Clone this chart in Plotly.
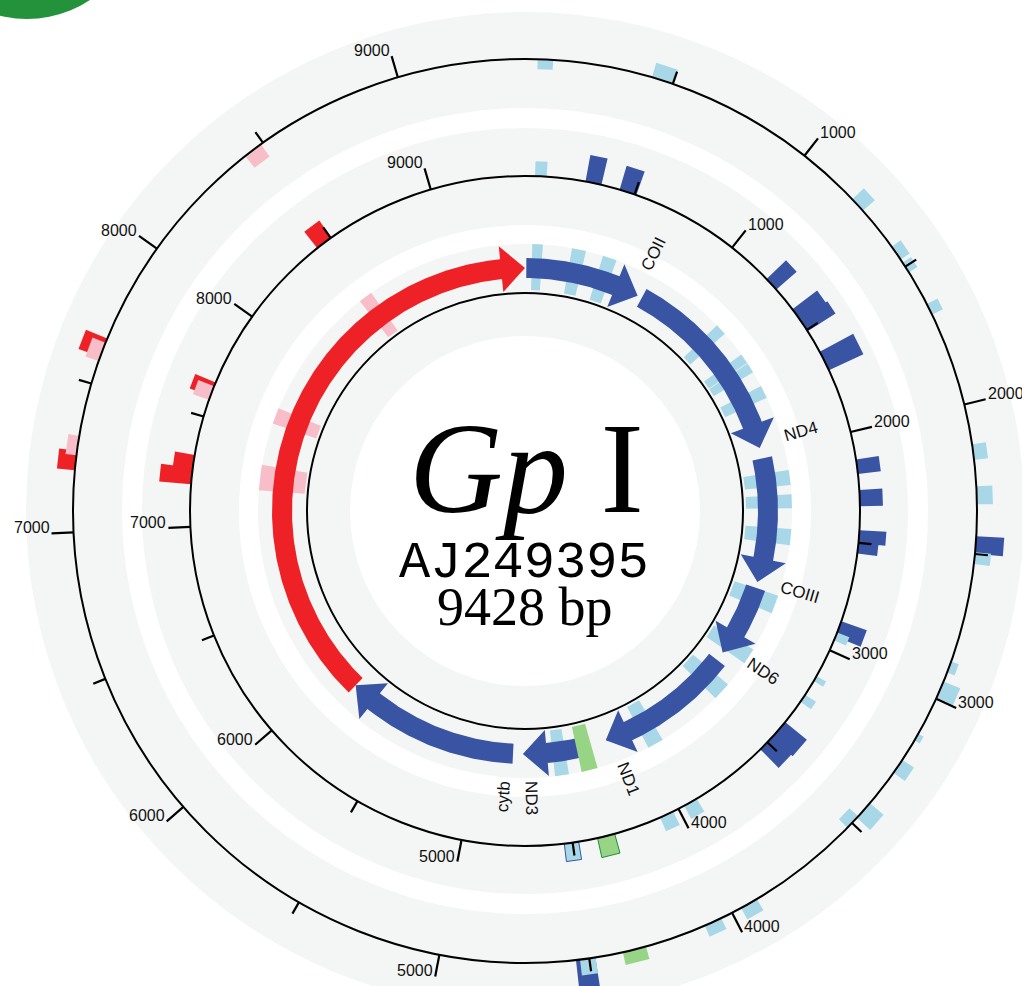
import numpy as np
import plotly.graph_objects as go

# ---------------- data ----------------
GENOME_LENGTH = 9428
genome_name = "AJ249395"
genome_title = "Gp"
genome_subtitle = "I"

gene_names = ["COII", "ND4", "COIII", "ND6", "ND1", "ND3", "cytb", ""]
gene_starts = [8, 752, 2030, 2839, 3347, 4374, 4788, 5871]
gene_ends = [723, 1964, 2802, 3289, 4206, 4727, 5871, 9428]
gene_kind = ["blue", "blue", "blue", "blue", "blue", "blue", "blue", "red"]
gene_label_pos = [694, 1938, 2789, 3247, 4164, 4683, 4829, None]

tick_major = [1000, 2000, 3000, 4000, 5000, 6000, 7000, 8000, 9000]
tick_minor = [500, 1500, 2500, 3500, 4500, 5500, 6500, 7500, 8500]

# track A (gene slot, full-height hits behind the genes)
a_lblue_pos = [71, 306, 485, 1236, 1446, 1508, 1663, 2168, 2302, 2504, 2894, 3221, 3470, 3947, 4505]
a_lblue_len = [60, 80, 80, 65, 58, 58, 73, 86, 79, 92, 105, 92, 105, 92, 79]
a_pink_pos = [8467, 7618, 7260]
a_pink_len = [79, 92, 144]
a_green_pos = [4347]
a_green_len = [92]

# track B (hits outside the inner backbone), score = bar height
b_dblue_pos = [309, 469, 1241, 1417, 1477, 1660, 2158, 2299, 2472, 2522, 2897, 3425, 3500]
b_dblue_len = [73, 79, 65, 60, 60, 92, 65, 73, 58, 52, 73, 90, 90]
b_dblue_score = [27, 25, 27, 31, 33, 38, 23, 23, 27, 20, 27, 28, 26]
b_lblue_pos = [71, 2933, 3143, 3247, 3939, 4059, 4505]
b_lblue_len = [52, 39, 26, 39, 65, 65, 65]
b_lblue_score = [15, 13, 11, 13, 15, 15, 18]
b_green_pos = [4347]
b_green_len = [79]
b_green_score = [20]
b_red_pos = [8464, 7629, 7291, 7228]
b_red_len = [79, 65, 65, 73]
b_red_score = [21, 22, 20, 32]
b_pink_pos = [7611]
b_pink_len = [65]
b_pink_score = [17]

# track C (hits on the outer backbone); positive = outside, negative = inside
c_dblue_pos = [2470, 4512]
c_dblue_len = [58, 65]
c_dblue_score = [28, 40]
c_lblue_pos = [464, 1241, 1446, 1503, 1663, 2161, 2305, 2514, 2886, 2967, 3143, 3258, 3444, 3936, 4070, 4505, 68, 3496]
c_lblue_len = [73, 52, 52, 39, 39, 52, 60, 39, 39, 60, 26, 52, 65, 60, 60, 52, 52, 52]
c_lblue_score = [15, 16, 11, 10, 12, 14, 16, 16, 8, 18, 6, 14, 18, 13, 12, 16, -10, -12]
c_green_pos = [4347]
c_green_len = [79]
c_green_score = [13]
c_red_pos = [7626, 7239]
c_red_len = [65, 65]
c_red_score = [23, 18]
c_pink_pos = [7611, 7289, 8459]
c_pink_len = [65, 65, 65]
c_pink_score = [14, 11, -15]

# ---------------- style ----------------
CX, CY = 525, 511          # centre in pixels
W, H = 1022, 986
R_INNER_BB = 218
R_MID_BB = 335
R_OUTER_BB = 452
GENE_RC, GENE_HW, HEAD_HW, HEAD_PX = 243, 10, 23, 24
SLOT_A = (221, 267)

C_DBLUE = "rgb(58,84,164)"
C_LBLUE = "rgb(168,216,232)"
C_RED = "rgb(238,33,38)"
C_PINK = "rgb(247,190,202)"
C_GREEN = "rgb(152,212,134)"
C_DGREEN = "rgb(30,140,60)"
C_RING = "rgb(244,246,245)"


def ang(bp):
    return np.asarray(bp, dtype=float) / GENOME_LENGTH * 2 * np.pi


def sector(c, w, r0, r1, n=10):
    t = np.linspace(ang(c - w / 2), ang(c + w / 2), n)
    xs = np.concatenate([r1 * np.sin(t), r0 * np.sin(t[::-1]), [r1 * np.sin(t[0])]])
    ys = np.concatenate([r1 * np.cos(t), r0 * np.cos(t[::-1]), [r1 * np.cos(t[0])]])
    return list(xs), list(ys)


def poly_trace(polys, color, line=None):
    X, Y = [], []
    for xs, ys in polys:
        X += xs + [None]
        Y += ys + [None]
    return go.Scatter(x=X, y=Y, mode="lines", fill="toself", fillcolor=color,
                      line=dict(width=line[1], color=line[0]) if line else dict(width=0, color=color),
                      hoverinfo="skip", showlegend=False)


def hits(pos, ln, base, score=None, r_full=None):
    out = []
    for i, (p, l) in enumerate(zip(pos, ln)):
        if r_full is not None:
            r0, r1 = r_full
        else:
            s = score[i]
            r0, r1 = (base, base + s) if s >= 0 else (base + s, base)
        out.append(sector(p, l, r0, r1))
    return out


def arrow(s, e):
    a0, a1 = float(ang(s)), float(ang(e))
    ab = a1 - HEAD_PX / GENE_RC
    n = max(4, int((ab - a0) / 0.008))
    t = np.linspace(a0, ab, n)
    ro, ri = GENE_RC + GENE_HW, GENE_RC - GENE_HW
    xs = list(ro * np.sin(t)) + [(GENE_RC + HEAD_HW) * np.sin(ab), GENE_RC * np.sin(a1),
                                  (GENE_RC - HEAD_HW) * np.sin(ab)] + list(ri * np.sin(t[::-1]))
    ys = list(ro * np.cos(t)) + [(GENE_RC + HEAD_HW) * np.cos(ab), GENE_RC * np.cos(a1),
                                  (GENE_RC - HEAD_HW) * np.cos(ab)] + list(ri * np.cos(t[::-1]))
    xs.append(xs[0]); ys.append(ys[0])
    return xs, ys


fig = go.Figure()

# track A hits (behind genes)
fig.add_trace(poly_trace(hits(a_lblue_pos, a_lblue_len, 0, r_full=SLOT_A), C_LBLUE))
fig.add_trace(poly_trace(hits(a_pink_pos, a_pink_len, 0, r_full=SLOT_A), C_PINK))

# genes
for kind in ["blue", "red"]:
    polys = [arrow(s, e) for s, e, k in zip(gene_starts, gene_ends, gene_kind) if k == kind]
    fig.add_trace(poly_trace(polys, C_DBLUE if kind == "blue" else C_RED))
fig.add_trace(poly_trace(hits(a_green_pos, a_green_len, 0, r_full=SLOT_A), C_GREEN))

# track B
fig.add_trace(poly_trace(hits(b_dblue_pos, b_dblue_len, R_MID_BB, b_dblue_score), C_DBLUE))
fig.add_trace(poly_trace(hits(b_lblue_pos[:-1], b_lblue_len[:-1], R_MID_BB, b_lblue_score[:-1]), C_LBLUE))
fig.add_trace(poly_trace(hits(b_lblue_pos[-1:], b_lblue_len[-1:], R_MID_BB, b_lblue_score[-1:]), C_LBLUE,
                         line=(C_DBLUE, 1)))
fig.add_trace(poly_trace(hits(b_green_pos, b_green_len, R_MID_BB, b_green_score), C_GREEN,
                         line=(C_DGREEN, 1)))
fig.add_trace(poly_trace(hits(b_red_pos, b_red_len, R_MID_BB, b_red_score), C_RED))
fig.add_trace(poly_trace(hits(b_pink_pos, b_pink_len, R_MID_BB, b_pink_score), C_PINK))

# track C
fig.add_trace(poly_trace(hits(c_dblue_pos, c_dblue_len, R_OUTER_BB, c_dblue_score), C_DBLUE))
fig.add_trace(poly_trace(hits(c_lblue_pos, c_lblue_len, R_OUTER_BB, c_lblue_score), C_LBLUE))
fig.add_trace(poly_trace(hits(c_green_pos, c_green_len, R_OUTER_BB, c_green_score), C_GREEN))
fig.add_trace(poly_trace(hits(c_red_pos, c_red_len, R_OUTER_BB, c_red_score), C_RED))
fig.add_trace(poly_trace(hits(c_pink_pos, c_pink_len, R_OUTER_BB, c_pink_score), C_PINK))

# ticks
TX, TY = [], []
annotations = []
for rb in (R_MID_BB, R_OUTER_BB):
    for ticks, ln in ((tick_major, 22), (tick_minor, 13)):
        for p in ticks:
            a = float(ang(p))
            TX += [rb * np.sin(a), (rb + ln) * np.sin(a), None]
            TY += [rb * np.cos(a), (rb + ln) * np.cos(a), None]
    for p in tick_major:
        a = float(ang(p))
        ex, ey = (rb + 22) * np.sin(a), (rb + 22) * np.cos(a)
        annotations.append(dict(x=ex, y=ey, text=str(p), showarrow=False,
                                xanchor="left" if np.degrees(a) < 180 else "right",
                                yanchor="bottom", yshift=-5, xshift=0,
                                font=dict(family="Liberation Sans, Arial", size=16, color="#111")))
fig.add_trace(go.Scatter(x=TX, y=TY, mode="lines", line=dict(color="black", width=2.2),
                         hoverinfo="skip", showlegend=False))

# gene labels
for name, lp in zip(gene_names, gene_label_pos):
    if not name or lp is None:
        continue
    a = float(ang(lp))
    deg = np.degrees(a)
    rot = deg - 90 if deg <= 180 else deg - 270
    annotations.append(dict(x=287 * np.sin(a), y=287 * np.cos(a), text=name, showarrow=False,
                            textangle=rot, xanchor="center", yanchor="middle",
                            font=dict(family="Liberation Sans, Arial", size=17, color="#111")))

# centre text
annotations.append(dict(x=1, y=CY - (512 - 0.3375 * 130), text=f"<i>{genome_title}</i> {genome_subtitle}",
                        showarrow=False, xanchor="center", yanchor="middle",
                        font=dict(family="Liberation Serif, Times New Roman", size=130, color="black")))
annotations.append(dict(x=-1, y=CY - (577 - 0.2665 * 52), text=genome_name, showarrow=False,
                        xanchor="center", yanchor="middle",
                        font=dict(family="Courier New, Liberation Mono, monospace", size=52, color="black")))
annotations.append(dict(x=0, y=CY - (625 - 0.3375 * 54), text=f"{GENOME_LENGTH} bp", showarrow=False,
                        xanchor="center", yanchor="middle",
                        font=dict(family="Liberation Serif, Times New Roman", size=54, color="black")))

# ring backgrounds and backbones
shapes = []
for r, col in ((499, C_RING), (403, "white"), (383, C_RING), (286, "white"), (267, C_RING), (175, "white")):
    shapes.append(dict(type="circle", xref="x", yref="y", x0=-r, x1=r, y0=-r, y1=r,
                       fillcolor=col, line=dict(width=0), layer="below"))
for r in (R_INNER_BB, R_MID_BB, R_OUTER_BB):
    shapes.append(dict(type="circle", xref="x", yref="y", x0=-r, x1=r, y0=-r, y1=r,
                       fillcolor="rgba(0,0,0,0)", line=dict(width=2, color="black"), layer="above"))
# partial green disc at top-left corner
gx, gy, gr = 27 - CX, CY + 95, 114
shapes.append(dict(type="circle", xref="x", yref="y", x0=gx - gr, x1=gx + gr, y0=gy - gr, y1=gy + gr,
                   fillcolor="rgb(35,146,58)", line=dict(width=0), layer="above"))

fig.update_layout(
    width=W, height=H, margin=dict(l=0, r=0, t=0, b=0),
    paper_bgcolor="white", plot_bgcolor="white",
    xaxis=dict(range=[-CX, W - CX], visible=False, fixedrange=True),
    yaxis=dict(range=[CY - H, CY], visible=False, fixedrange=True),
    shapes=shapes, annotations=annotations, showlegend=False,
)
fig.write_html("out.html", config={"displayModeBar": False},
               post_script="document.body.style.margin='0';document.body.style.overflow='hidden';")
